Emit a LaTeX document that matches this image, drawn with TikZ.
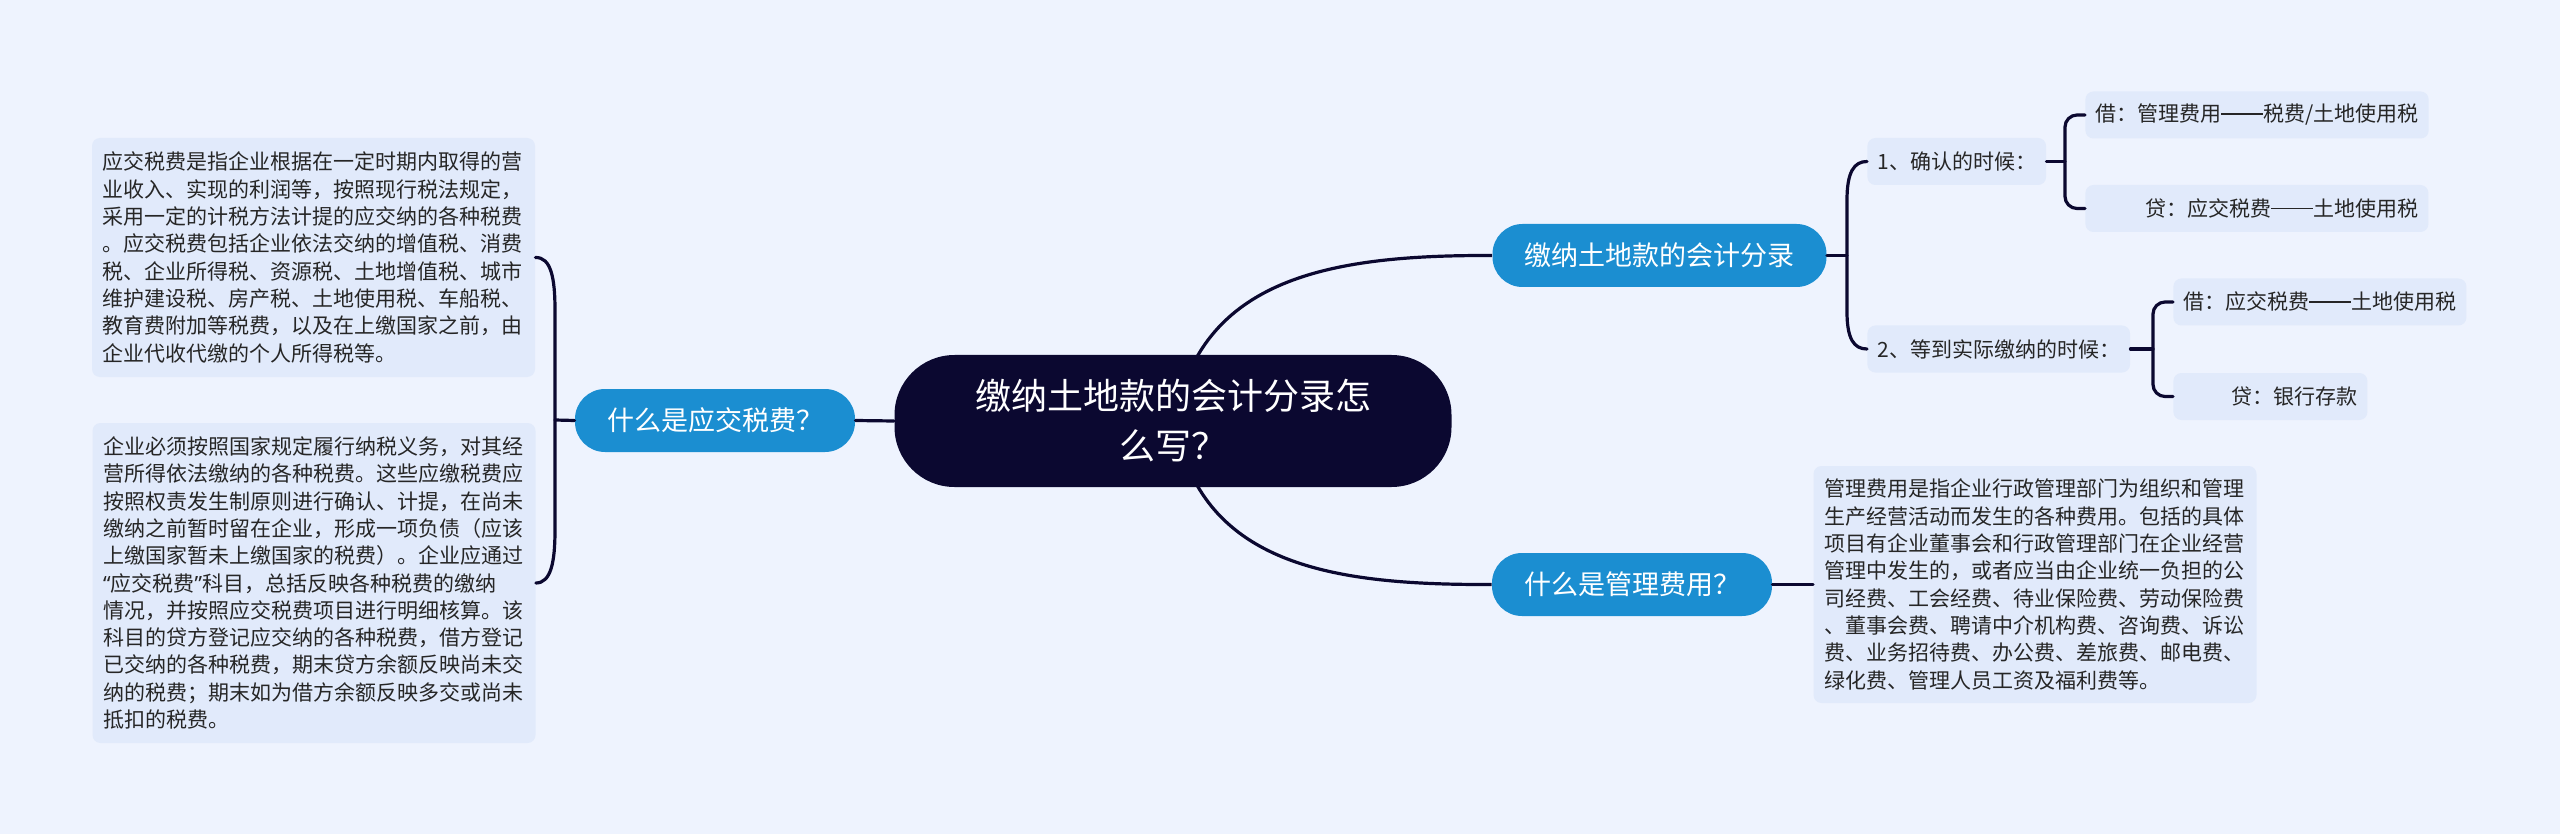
\documentclass[tikz,border=0pt]{standalone}
\usepackage{fontspec}
\setmainfont{Noto Sans CJK SC}
\newfontfamily\latinfont{Noto Sans}
\usetikzlibrary{backgrounds}

\definecolor{bgcol}{HTML}{EEF3FE}
\definecolor{rootcol}{HTML}{0B0830}
\definecolor{topiccol}{HTML}{1B8ED1}
\definecolor{leafcol}{HTML}{E1EAFB}
\definecolor{inkcol}{HTML}{262626}

% 全角破折号
\newcommand\cdash{\makebox[2em]{\rule[0.34em]{2em}{0.065em}}}

\tikzset{
  root/.style={fill=rootcol, text=white, rounded corners=30pt,
    font=\fontsize{18pt}{25pt}\selectfont, align=center,
    minimum width=278.5pt, minimum height=66pt},
  topic/.style={fill=topiccol, text=white, rounded corners=15pt,
    font=\fontsize{13.5pt}{16pt}\selectfont, inner xsep=16pt,
    minimum height=31.5pt},
  leaf/.style={fill=leafcol, text=inkcol, rounded corners=4pt,
    font=\fontsize{10.5pt}{13.65pt}\selectfont, inner xsep=5pt,
    minimum height=23.5pt, anchor=west},
  para/.style={fill=leafcol, text=inkcol, rounded corners=4pt,
    font=\fontsize{10.5pt}{13.65pt}\selectfont, align=left,
    text width=211pt, inner xsep=5.25pt},
  link/.style={draw=rootcol, line width=1.6pt}
}

\begin{document}
\begin{tikzpicture}[
  x=0.5pt, y=-0.5pt,
  line cap=round
]
  \useasboundingbox (0,0) rectangle (2560,834);

  % 中心主题
  \node[root] (root) at (1173,421) {缴纳土地款的会计分录怎\\么写？};

  % 一级分支
  \node[topic] (qtax) at (715,420.5) {什么是应交税费？};
  \node[topic] (entry) at (1659.5,255.5) {缴纳土地款的会计分录};
  \node[topic] (qfee) at (1632,584.5) {什么是管理费用？};

  % 左侧说明
  \node[para, minimum height=119.5pt] (def) at (313.5,257.5) {%
    应交税费是指企业根据在一定时期内取得的营\\
    业收入、实现的利润等，按照现行税法规定，\\
    采用一定的计税方法计提的应交纳的各种税费\\
    。应交税费包括企业依法交纳的增值税、消费\\
    税、企业所得税、资源税、土地增值税、城市\\
    维护建设税、房产税、土地使用税、车船税、\\
    教育费附加等税费，以及在上缴国家之前，由\\
    企业代收代缴的个人所得税等。};
  \node[para, minimum height=160pt] (duty) at (314,583) {%
    企业必须按照国家规定履行纳税义务，对其经\\
    营所得依法缴纳的各种税费。这些应缴税费应\\
    按照权责发生制原则进行确认、计提，在尚未\\
    缴纳之前暂时留在企业，形成一项负债（应该\\
    上缴国家暂未上缴国家的税费）。企业应通过\\
    {\latinfont “}应交税费{\latinfont ”}科目，总括反映各种税费的缴纳\\
    情况，并按照应交税费项目进行明细核算。该\\
    科目的贷方登记应交纳的各种税费，借方登记\\
    已交纳的各种税费，期末贷方余额反映尚未交\\
    纳的税费；期末如为借方余额反映多交或尚未\\
    抵扣的税费。};

  % 会计分录
  \node[leaf] (ack) at (1867,161.5) {1、确认的时候：};
  \node[leaf] (pay) at (1867,349) {2、等到实际缴纳的时候：};
  \node[leaf] (debit1) at (2085,115) {借：管理费用\cdash 税费/土地使用税};
  \node[leaf] (credit1) at (2085,208.5) {\hspace*{25pt}贷：应交税费\cdash 土地使用税};
  \node[leaf] (debit2) at (2173,302) {借：应交税费\cdash 土地使用税};
  \node[leaf] (credit2) at (2173,396.5) {\hspace*{24pt}贷：银行存款};

  % 管理费用说明
  \node[para, minimum height=118.5pt] (mgdef) at (2035,584.5) {%
    管理费用是指企业行政管理部门为组织和管理\\
    生产经营活动而发生的各种费用。包括的具体\\
    项目有企业董事会和行政管理部门在企业经营\\
    管理中发生的，或者应当由企业统一负担的公\\
    司经费、工会经费、待业保险费、劳动保险费\\
    、董事会费、聘请中介机构费、咨询费、诉讼\\
    费、业务招待费、办公费、差旅费、邮电费、\\
    绿化费、管理人员工资及福利费等。};

  % 连线
  \begin{pgfonlayer}{background}
    \fill[bgcol] (0,0) rectangle (2560,834);
    \draw[link] (1186,380) .. controls (1228,272) and (1350,255) .. (entry.west);
    \draw[link] (1186,462) .. controls (1228,570) and (1350,585) .. (qfee.west);
  \end{pgfonlayer}
  \draw[link] (root.west) -- (qtax.east);

  \coordinate (lj) at (555,420);
  \draw[link] (qtax.west) -- (lj);
  \draw[link] (def.east) .. controls (551,257) and (555,278) .. (555,310)
    -- (555,530) .. controls (555,562) and (551,583) .. (duty.east);

  \coordinate (rj) at (1847,255.5);
  \draw[link] (entry.east) -- (rj);
  \draw[link] (ack.west) .. controls (1854,161.5) and (1847,172) .. (1847,200)
    -- (1847,312) .. controls (1847,339) and (1854,349) .. (pay.west);

  \draw[link] (ack.east) -- (2065,161.5);
  \draw[link, rounded corners=6pt] (debit1.west) -- (2065,115) -- (2065,208.5) -- (credit1.west);
  \draw[link] (pay.east) -- (2153,349);
  \draw[link, rounded corners=6pt] (debit2.west) -- (2153,302) -- (2153,396.5) -- (credit2.west);

  \draw[link] (qfee.east) -- (mgdef.west);
\end{tikzpicture}
\end{document}
